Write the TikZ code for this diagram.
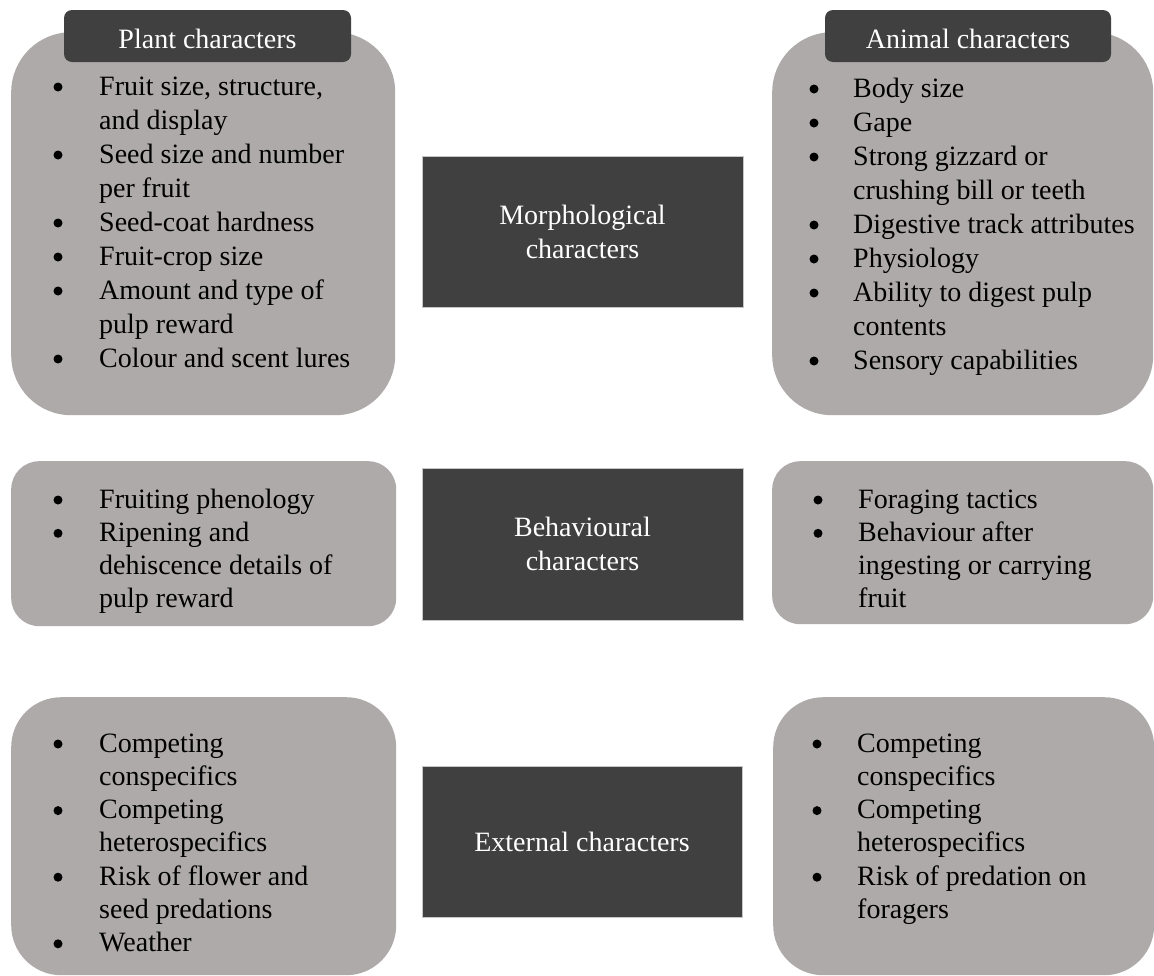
\documentclass[tikz,border=0pt]{standalone}
\usepackage{fontspec}
\setmainfont{Liberation Serif}
\usetikzlibrary{positioning}
\definecolor{grisclair}{HTML}{AEAAAA}
\definecolor{grisfonce}{HTML}{404040}

\begin{document}
\begin{tikzpicture}[x=1pt,y=-1pt,
    boite/.style={fill=grisclair,anchor=north west,inner sep=0pt},
    titre/.style={fill=grisfonce,draw=gray!45,line width=0.6pt,text=white,align=center,
        font=\fontsize{28}{34}\selectfont,minimum width=321pt,minimum height=151pt,inner sep=0pt},
    entete/.style={fill=grisfonce,rounded corners=8pt,text=white,text height=24pt,text depth=0pt,
        font=\fontsize{28}{34}\selectfont,minimum height=52pt,inner sep=0pt},
    liste/.style={anchor=base west,inner sep=0pt,font=\fontsize{28}{34}\selectfont},
    puce/.style={fill=black}]

    \useasboundingbox (0,0) rectangle (1154,975);

    % Caracteres morphologiques
    \node[boite,rounded corners=60pt,minimum width=384pt,minimum height=383pt] (plantMorph) at (11,32) {};
    \node[boite,rounded corners=60pt,minimum width=381pt,minimum height=383pt] (animalMorph) at (772,32) {};
    \node[entete,minimum width=287pt] (plantHead) at (207.5,36) {Plant characters};
    \node[entete,minimum width=286pt] (animalHead) at (968,36) {Animal characters};
    \node[titre] (morph) at (582.5,231.5) {Morphological\\characters};

    \node[liste] (plantMorphTxt) at (99,95) {\begin{tabular}[t]{@{}l@{}}
        Fruit size, structure,\\
        and display\\
        Seed size and number\\
        per fruit\\
        Seed-coat hardness\\
        Fruit-crop size\\
        Amount and type of\\
        pulp reward\\
        Colour and scent lures
    \end{tabular}};
    \foreach \k in {0,2,4,5,6,8} \fill[puce] (58,{87+34*\k}) circle (4.5pt);

    \node[liste] (animalMorphTxt) at (853,97) {\begin{tabular}[t]{@{}l@{}}
        Body size\\
        Gape\\
        Strong gizzard or\\
        crushing bill or teeth\\
        Digestive track attributes\\
        Physiology\\
        Ability to digest pulp\\
        contents\\
        Sensory capabilities
    \end{tabular}};
    \foreach \k in {0,1,2,4,5,6,8} \fill[puce] (814,{89+34*\k}) circle (4.5pt);

    % Caracteres comportementaux
    \node[boite,rounded corners=28pt,minimum width=385pt,minimum height=165pt] (plantBehav) at (11,461) {};
    \node[boite,rounded corners=28pt,minimum width=381pt,minimum height=163pt] (animalBehav) at (772,461) {};
    \node[titre,minimum height=152pt] (behav) at (582.5,544) {Behavioural\\characters};

    \node[liste,font=\fontsize{28}{33.3}\selectfont] (plantBehavTxt) at (99,508) {\begin{tabular}[t]{@{}l@{}}
        Fruiting phenology\\
        Ripening and\\
        dehiscence details of\\
        pulp reward
    \end{tabular}};
    \foreach \k in {0,1} \fill[puce] (58,{500+33.3*\k}) circle (4.5pt);

    \node[liste,font=\fontsize{28}{33.3}\selectfont] (animalBehavTxt) at (858,508) {\begin{tabular}[t]{@{}l@{}}
        Foraging tactics\\
        Behaviour after\\
        ingesting or carrying\\
        fruit
    \end{tabular}};
    \foreach \k in {0,1} \fill[puce] (818,{500+33.3*\k}) circle (4.5pt);

    % Caracteres externes
    \node[boite,rounded corners=50pt,minimum width=385pt,minimum height=278pt] (plantExt) at (11,697) {};
    \node[boite,rounded corners=50pt,minimum width=381pt,minimum height=278pt] (animalExt) at (773,697) {};
    \node[titre,minimum width=320pt] (ext) at (582,841.5) {External characters};

    \node[liste,font=\fontsize{28}{33.3}\selectfont] (plantExtTxt) at (99,752) {\begin{tabular}[t]{@{}l@{}}
        Competing\\
        conspecifics\\
        Competing\\
        heterospecifics\\
        Risk of flower and\\
        seed predations\\
        Weather
    \end{tabular}};
    \foreach \k in {0,2,4,6} \fill[puce] (58,{744+33.3*\k}) circle (4.5pt);

    \node[liste,font=\fontsize{28}{33.3}\selectfont] (animalExtTxt) at (857,752) {\begin{tabular}[t]{@{}l@{}}
        Competing\\
        conspecifics\\
        Competing\\
        heterospecifics\\
        Risk of predation on\\
        foragers
    \end{tabular}};
    \foreach \k in {0,2,4} \fill[puce] (817,{744+33.3*\k}) circle (4.5pt);
\end{tikzpicture}
\end{document}
